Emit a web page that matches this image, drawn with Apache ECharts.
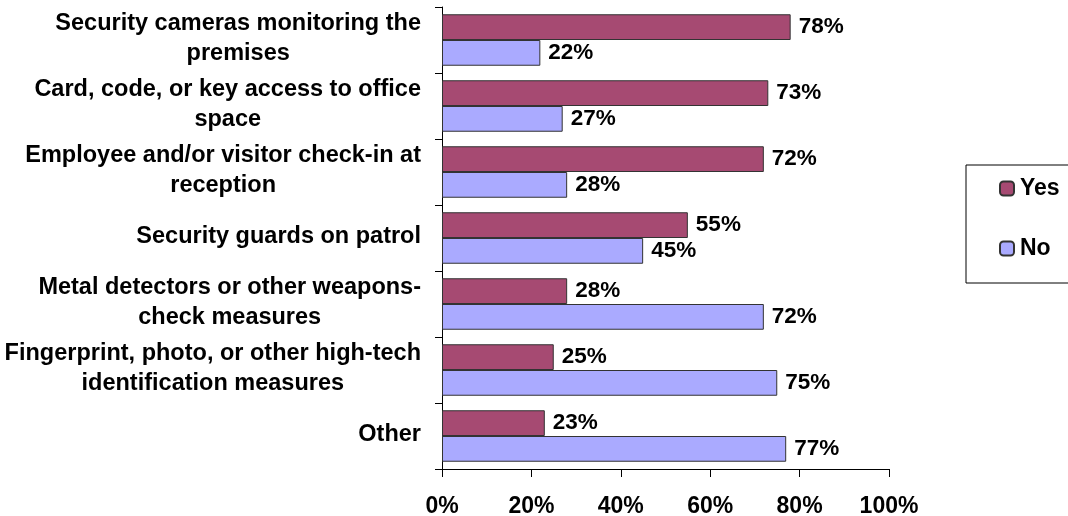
<!DOCTYPE html>
<html>
<head>
<meta charset="utf-8">
<script src="https://cdn.jsdelivr.net/npm/echarts@6/dist/echarts.min.js"></script>
<style>
  html, body { margin: 0; padding: 0; background: #fff; }
  #chart { width: 1068px; height: 516px; }
</style>
</head>
<body>
<div id="chart"></div>
<script>
  // measures, top to bottom
  const categories = [
    'Security cameras monitoring the\npremises',
    'Card, code, or key access to office\nspace',
    'Employee and/or visitor check-in at\nreception',
    'Security guards on patrol',
    'Metal detectors or other weapons-\ncheck measures',
    'Fingerprint, photo, or other high-tech\nidentification measures',
    'Other'
  ]
  const yesValues = [78, 73, 72, 55, 28, 25, 23]
  const noValues = [22, 27, 28, 45, 72, 75, 77]
  const seriesNames = ['Yes', 'No']

  const font = 'Arial, "Liberation Sans", sans-serif'

  function barLabel () {
    return {
      show: true,
      position: 'right',
      distance: 8,
      formatter: '{c}%',
      fontSize: 22.5,
      fontWeight: 'bold',
      color: '#000',
      fontFamily: font
    }
  }

  let chart = echarts.init(document.getElementById('chart'))
  chart.setOption({
    animation: false,
    textStyle: {fontFamily: font},
    grid: {left: 442, right: 179, top: 7, bottom: 47, outerBoundsMode: 'none'},
    legend: {
      orient: 'vertical',
      left: 966,
      top: 165,
      padding: [12, 80, 23, 33],
      itemGap: 37,
      itemWidth: 14,
      itemHeight: 14,
      borderColor: '#000',
      borderWidth: 1,
      borderRadius: 0,
      textStyle: {fontSize: 23, fontWeight: 'bold', color: '#000', fontFamily: font, padding: [0, 0, 0, 1]},
      data: seriesNames
    },
    xAxis: {
      type: 'value',
      min: 0,
      max: 100,
      interval: 20,
      splitLine: {show: false},
      axisLine: {show: true, lineStyle: {color: '#000'}},
      axisTick: {show: true, length: 8, lineStyle: {color: '#000'}},
      axisLabel: {
        formatter: '{value}%',
        margin: 26,
        fontSize: 23,
        fontWeight: 'bold',
        color: '#000',
        fontFamily: font
      }
    },
    yAxis: {
      type: 'category',
      inverse: true,
      data: categories,
      axisLine: {show: true, lineStyle: {color: '#000'}},
      axisTick: {show: true, length: 7, lineStyle: {color: '#000'}},
      axisLabel: {
        margin: 21,
        align: 'right',
        padding: [0, 0, 3, 0],
        // each line centred inside the label block
        formatter: (val) => val.split('\n').map(s => '{c|' + s + '}').join('\n'),
        rich: {
          c: {
            align: 'center',
            fontSize: 23.5,
            fontWeight: 'bold',
            lineHeight: 30,
            color: '#000',
            fontFamily: font
          }
        }
      }
    },
    series: [
      {
        name: seriesNames[0],
        type: 'bar',
        data: yesValues,
        barGap: '0%',
        barCategoryGap: '22%',
        itemStyle: {color: '#A64A72', borderColor: '#333', borderWidth: 1},
        label: barLabel()
      },
      {
        name: seriesNames[1],
        type: 'bar',
        data: noValues,
        barGap: '0%',
        barCategoryGap: '22%',
        itemStyle: {color: '#AAAAFF', borderColor: '#333', borderWidth: 1},
        label: barLabel()
      }
    ]
  })
</script>
</body>
</html>
